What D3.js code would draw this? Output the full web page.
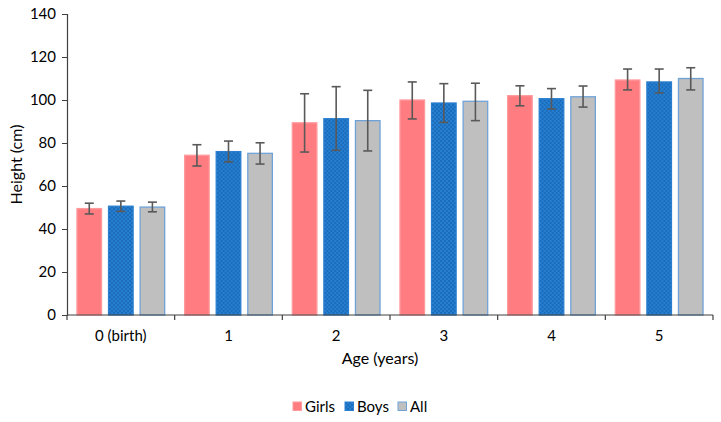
<!DOCTYPE html>
<html>
<head>
<meta charset="utf-8">
<script src="https://cdn.jsdelivr.net/npm/d3@7"></script>
<style>
  body { margin: 0; background: #fff; }
  text { font-family: Lato, "Open Sans", sans-serif; fill: #000; }
</style>
</head>
<body>
<div id="chart"></div>
<script>
// data
var ages = ["0 (birth)", "1", "2", "3", "4", "5"];
var series = ["Girls", "Boys", "All"];
var girls     = [49.5, 74.3, 89.4, 100.0, 102.0, 109.3];
var girlsLow  = [47.0, 69.3, 75.8, 91.2, 97.3, 104.7];
var girlsHigh = [52.0, 79.2, 102.9, 108.4, 106.6, 114.4];
var boys      = [50.6, 76.0, 91.3, 98.6, 100.6, 108.4];
var boysLow   = [48.2, 71.2, 76.6, 89.6, 95.8, 103.3];
var boysHigh  = [53.0, 80.9, 106.2, 107.6, 105.3, 114.4];
var all       = [50.2, 75.2, 90.4, 99.4, 101.5, 110.0];
var allLow    = [48.0, 70.2, 76.3, 90.4, 96.7, 104.7];
var allHigh   = [52.5, 80.1, 104.5, 107.8, 106.5, 115.0];
var yTicks = [0, 20, 40, 60, 80, 100, 120, 140];

var width = 721, height = 422;
var margin = { top: 14, left: 67, right: 8, bottom: 107 };
var w = width - margin.left - margin.right;
var h = height - margin.top - margin.bottom;

var svg = d3.select("#chart").append("svg")
    .attr("width", width)
    .attr("height", height);

// checker pattern for Boys
var defs = svg.append("defs");
var pat = defs.append("pattern")
    .attr("id", "boysPat")
    .attr("patternUnits", "userSpaceOnUse")
    .attr("width", 4).attr("height", 4);
pat.append("rect").attr("width", 4).attr("height", 4).attr("fill", "#2680d2");
pat.append("rect").attr("width", 2).attr("height", 2).attr("fill", "#1c6cbb");
pat.append("rect").attr("x", 2).attr("y", 2).attr("width", 2).attr("height", 2).attr("fill", "#1c6cbb");

var fills = { Girls: "#ff7c80", Boys: "url(#boysPat)", All: "#bfbfbf" };
var strokes = { Girls: "#ff9a9d", Boys: "#2a7fd0", All: "#6fa3d8" };

var data = ages.map(function(a, i) {
  return {
    age: a,
    vals: [
      { s: "Girls", v: girls[i], lo: girlsLow[i], hi: girlsHigh[i] },
      { s: "Boys", v: boys[i], lo: boysLow[i], hi: boysHigh[i] },
      { s: "All", v: all[i], lo: allLow[i], hi: allHigh[i] }
    ]
  };
});

var x0 = d3.scaleBand().domain(ages).range([0, w]).padding(0);
var x1 = d3.scaleBand().domain(series).range([0, x0.bandwidth()])
    .paddingInner(0.19).paddingOuter(0.3);
var y = d3.scaleLinear().domain([0, 140]).range([h, 0]);

var g = svg.append("g")
    .attr("transform", "translate(" + margin.left + "," + margin.top + ")");

// bars
var groups = g.selectAll(".grp")
    .data(data).enter().append("g")
    .attr("transform", function(d) { return "translate(" + x0(d.age) + ",0)"; });

groups.selectAll("rect")
    .data(function(d) { return d.vals; })
    .enter().append("rect")
    .attr("x", function(d) { return x1(d.s) + 0.5; })
    .attr("y", function(d) { return y(d.v); })
    .attr("width", x1.bandwidth() - 1)
    .attr("height", function(d) { return h - y(d.v); })
    .attr("fill", function(d) { return fills[d.s]; })
    .attr("stroke", function(d) { return strokes[d.s]; })
    .attr("stroke-width", 1.3);

// error bars
var err = groups.selectAll(".err")
    .data(function(d) { return d.vals; })
    .enter().append("g")
    .attr("class", "err")
    .attr("stroke", "#595959")
    .attr("stroke-width", 1.6);
err.append("line")
    .attr("x1", function(d) { return x1(d.s) + x1.bandwidth() / 2; })
    .attr("x2", function(d) { return x1(d.s) + x1.bandwidth() / 2; })
    .attr("y1", function(d) { return y(d.lo); })
    .attr("y2", function(d) { return y(d.hi); });
err.append("line")
    .attr("x1", function(d) { return x1(d.s) + x1.bandwidth() / 2 - 4.5; })
    .attr("x2", function(d) { return x1(d.s) + x1.bandwidth() / 2 + 4.5; })
    .attr("y1", function(d) { return y(d.hi); })
    .attr("y2", function(d) { return y(d.hi); });
err.append("line")
    .attr("x1", function(d) { return x1(d.s) + x1.bandwidth() / 2 - 4.5; })
    .attr("x2", function(d) { return x1(d.s) + x1.bandwidth() / 2 + 4.5; })
    .attr("y1", function(d) { return y(d.lo); })
    .attr("y2", function(d) { return y(d.lo); });

// y axis
var yAxis = g.append("g")
    .call(d3.axisLeft(y).tickValues(yTicks).tickSize(5).tickPadding(6));
yAxis.select(".domain").attr("stroke", "#404040").attr("stroke-width", 1.2);
yAxis.selectAll(".tick line").attr("stroke", "#404040");
yAxis.selectAll("text").style("font-size", "15px").attr("fill", "#000");

// x axis: ticks on band boundaries
var xAxis = g.append("g").attr("transform", "translate(0," + h + ")");
xAxis.append("line")
    .attr("x1", 0).attr("x2", w)
    .attr("stroke", "#404040").attr("stroke-width", 1.2);
var bounds = ages.map(function(a) { return x0(a); }).concat([w]);
xAxis.selectAll(".bt")
    .data(bounds).enter().append("line")
    .attr("x1", function(d) { return d; })
    .attr("x2", function(d) { return d; })
    .attr("y1", 0).attr("y2", 5)
    .attr("stroke", "#404040").attr("stroke-width", 1.2);
xAxis.selectAll(".lbl")
    .data(ages).enter().append("text")
    .attr("x", function(d) { return x0(d) + x0.bandwidth() / 2; })
    .attr("y", 26)
    .attr("text-anchor", "middle")
    .style("font-size", "15px")
    .text(function(d) { return d; });

// axis titles
svg.append("text")
    .attr("x", margin.left + w / 2 - 10)
    .attr("y", 364)
    .attr("text-anchor", "middle")
    .style("font-size", "16px")
    .text("Age (years)");
svg.append("text")
    .attr("transform", "translate(22," + (margin.top + h / 2) + ") rotate(-90)")
    .attr("text-anchor", "middle")
    .style("font-size", "16px")
    .text("Height (cm)");

// legend
var legX = [293, 345, 398];
var leg = svg.selectAll(".leg")
    .data(series).enter().append("g")
    .attr("transform", function(d, i) { return "translate(" + legX[i] + ",402)"; });
leg.append("rect")
    .attr("width", 8.5).attr("height", 8.5)
    .attr("fill", function(d) { return fills[d]; })
    .attr("stroke", function(d) { return strokes[d]; })
    .attr("stroke-width", 1);
leg.append("text")
    .attr("x", 12).attr("y", 9.5)
    .style("font-size", "15px")
    .text(function(d) { return d; });
</script>
</body>
</html>
